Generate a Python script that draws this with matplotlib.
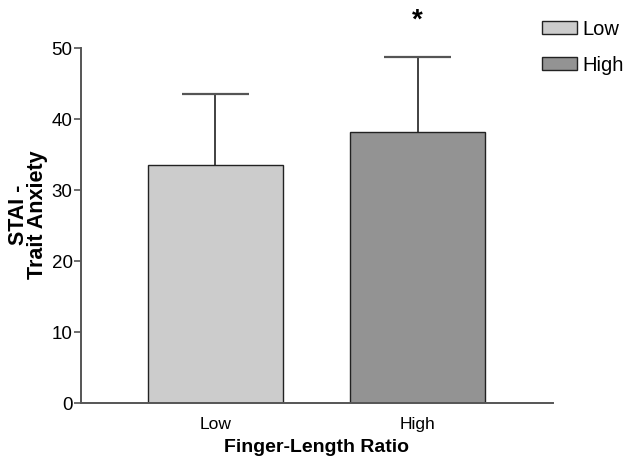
import numpy as np
import matplotlib.pyplot as plt

plt.rcParams['font.family'] = ['Liberation Sans', 'DejaVu Sans']

groups = ['Low', 'High']
means = [33.5, 38.2]
errs = [10.0, 10.5]
colors = ['#cccccc', '#939393']

fig = plt.figure(figsize=(6.27, 4.67), dpi=100)
ax = fig.add_axes([0.129, 0.137, 0.753, 0.760])

x = np.arange(len(groups))
w = 0.668
tops = np.array(means) + np.array(errs)
bars = ax.bar(x, means, width=w, color=colors, edgecolor='#222222',
              linewidth=1.0, label=groups, zorder=2)
# upper error bars only
ax.vlines(x, means, tops, color='#333333', linewidth=1.3, zorder=1)
ax.hlines(tops, x - w / 4, x + w / 4, color='#555555', linewidth=1.6, zorder=1)

# significance mark
ax.text(x[1], 53.9, '*', ha='center', va='center', fontsize=20,
        fontweight='bold', clip_on=False)

ax.set_xlim(-0.666, 1.67)
ax.set_ylim(0, 50)
ax.set_yticks([0, 10, 20, 30, 40, 50])
ax.set_xticks(x)
ax.set_xticklabels(groups, fontsize=12.5)
ax.tick_params(axis='y', labelsize=13.5, length=5, width=1.2, color='#555555', pad=1)
ax.tick_params(axis='x', length=0, pad=10)
for s in ['top', 'right']:
    ax.spines[s].set_visible(False)
for s in ['left', 'bottom']:
    ax.spines[s].set_color('#555555')
    ax.spines[s].set_linewidth(1.4)

ax.set_xlabel('Finger-Length Ratio', fontsize=14, fontweight='bold', labelpad=5)
ax.set_ylabel('STAI -\nTrait Anxiety', fontsize=15.5, fontweight='bold',
              linespacing=0.85)
ax.yaxis.set_label_coords(-0.070, 0.53)

fig.legend(bars, groups, loc='upper left', bbox_to_anchor=(0.865, 0.958),
           frameon=False, fontsize=14.5, handlelength=1.7, handleheight=0.65,
           handletextpad=0.3, labelspacing=0.85, borderaxespad=0, borderpad=0)

fig.savefig('out.png', dpi=100)
